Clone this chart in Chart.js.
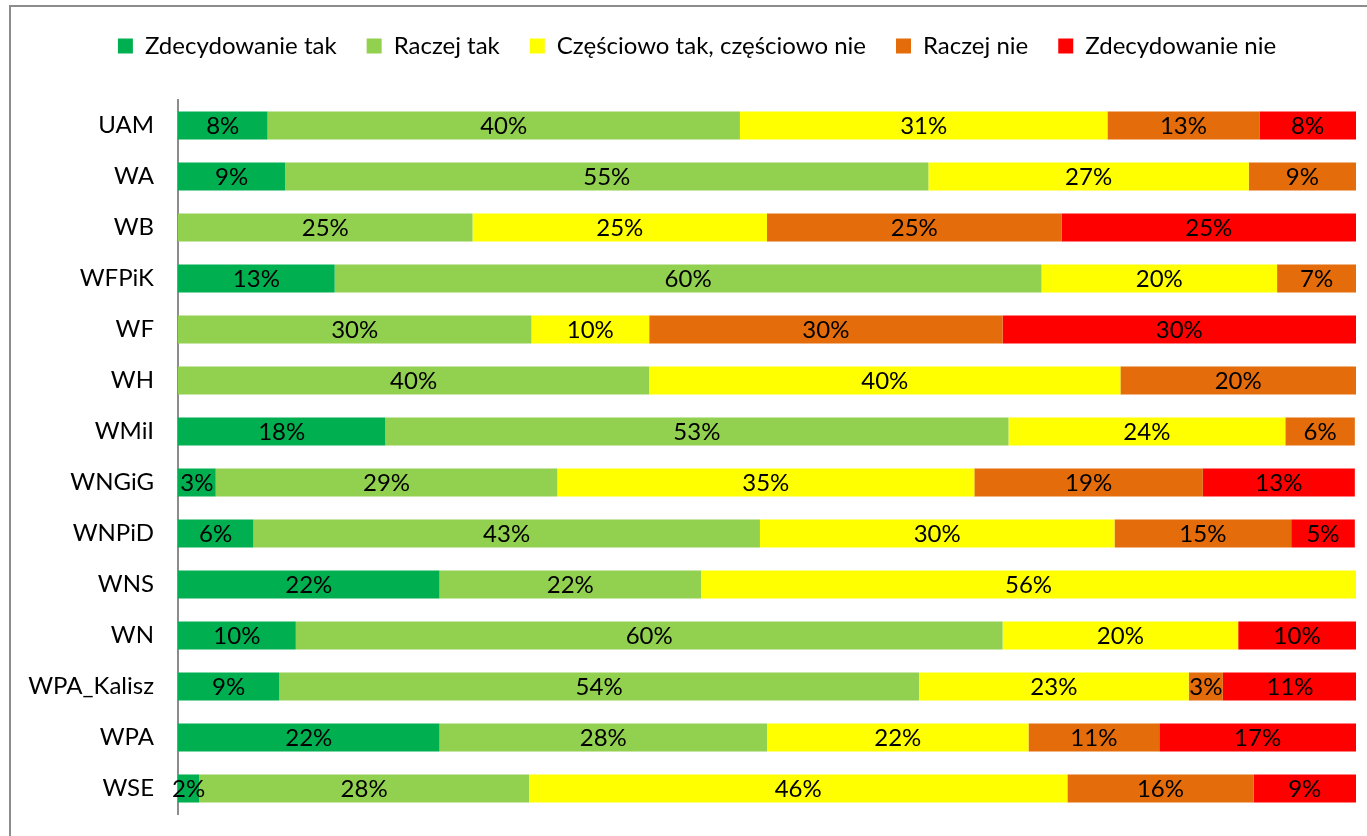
<!DOCTYPE html>
<html lang="pl">
<head>
<meta charset="utf-8">
<script src="https://cdn.jsdelivr.net/npm/chart.js@4.4.0/dist/chart.umd.min.js"></script>
<style>
  html, body { margin: 0; padding: 0; background: #ffffff; overflow: hidden; }
  canvas { display: block; }
</style>
</head>
<body>
<canvas id="chartWydzialy" width="1367" height="836"></canvas>
<script>
// Dane (udział odpowiedzi w %)
const kategorie = ['UAM', 'WA', 'WB', 'WFPiK', 'WF', 'WH', 'WMiI', 'WNGiG', 'WNPiD', 'WNS', 'WN', 'WPA_Kalisz', 'WPA', 'WSE'];
const odpowiedzi = ['Zdecydowanie tak', 'Raczej tak', 'Częściowo tak, częściowo nie', 'Raczej nie', 'Zdecydowanie nie'];
const zdecydowanieTak = [7.6, 9.1, 0, 13.3, 0, 0, 17.6, 3.2, 6.4, 22.2, 10, 8.6, 22.2, 1.8];
const raczejTak = [40.1, 54.6, 25, 60, 30, 40, 52.9, 29.0, 43.0, 22.2, 60, 54.3, 27.8, 28.0];
const czesciowo = [31.2, 27.2, 25, 20, 10, 40, 23.5, 35.4, 30.1, 55.6, 20, 22.9, 22.2, 45.7];
const raczejNie = [12.9, 9.1, 25, 6.7, 30, 20, 5.9, 19.4, 15.0, 0, 0, 2.9, 11.1, 15.8];
const zdecydowanieNie = [8.2, 0, 25, 0, 30, 0, 0, 12.9, 5.4, 0, 10, 11.4, 16.7, 8.7];
const kolory = ['#00b050', '#92d050', '#ffff00', '#e46c0a', '#ff0000'];

const FONT = 'Lato, "Liberation Sans", sans-serif';
const serie = [zdecydowanieTak, raczejTak, czesciowo, raczejNie, zdecydowanieNie];

// ramka wykresu (jak w Excelu)
const ramka = {
  id: 'ramka',
  beforeDraw(chart) {
    const ctx = chart.ctx;
    ctx.save();
    ctx.strokeStyle = '#8c8c8c';
    ctx.lineWidth = 2;
    ctx.strokeRect(10, 6, 1400, 900);
    ctx.restore();
  }
};

// legenda wyżej i lekko w prawo (więcej miejsca nad słupkami)
const legendaPozycja = {
  id: 'legendaPozycja',
  afterLayout(chart) {
    const legend = chart.legend;
    if (!legend) return;
    legend.left += 19;
    legend.right += 19;
    legend.top -= 32;
    legend.bottom -= 32;
  }
};

// etykiety procentowe na środku segmentów
const etykiety = {
  id: 'etykiety',
  afterDatasetsDraw(chart) {
    const ctx = chart.ctx;
    ctx.save();
    ctx.font = '24px ' + FONT;
    ctx.fillStyle = '#000000';
    ctx.textAlign = 'center';
    ctx.textBaseline = 'middle';
    chart.data.datasets.forEach((ds, i) => {
      const meta = chart.getDatasetMeta(i);
      meta.data.forEach((bar, j) => {
        const v = ds.data[j];
        if (!v) return;
        const p = bar.getProps(['x', 'y', 'base'], true);
        ctx.fillText(Math.round(v) + '%', (p.x + p.base) / 2, p.y + 1);
      });
    });
    ctx.restore();
  }
};

const ctx = document.getElementById('chartWydzialy').getContext('2d');
new Chart(ctx, {
  type: 'bar',
  data: {
    labels: kategorie,
    datasets: odpowiedzi.map((nazwa, i) => ({
      label: nazwa,
      data: serie[i],
      backgroundColor: kolory[i],
      borderWidth: 0,
      barPercentage: 0.55,
      categoryPercentage: 1
    }))
  },
  options: {
    indexAxis: 'y',
    responsive: false,
    animation: false,
    layout: { padding: { left: 0, right: 11, top: 36, bottom: 22 } },
    scales: {
      x: { stacked: true, min: 0, max: 100, display: false },
      y: {
        stacked: true,
        grid: { display: false, drawTicks: false },
        border: { display: true, color: '#8c8c8c', width: 2 },
        ticks: { color: '#000000', padding: 24, font: { family: FONT, size: 24 } },
        afterFit(scale) {
          scale.width = 178;
          scale.paddingTop = 0;
          scale.paddingBottom = 0;
        }
      }
    },
    plugins: {
      legend: {
        position: 'top',
        labels: {
          color: '#000000',
          boxWidth: 15,
          boxHeight: 15,
          padding: 30,
          font: { family: FONT, size: 24 }
        }
      },
      tooltip: { enabled: false }
    }
  },
  plugins: [ramka, legendaPozycja, etykiety]
});
</script>
</body>
</html>
